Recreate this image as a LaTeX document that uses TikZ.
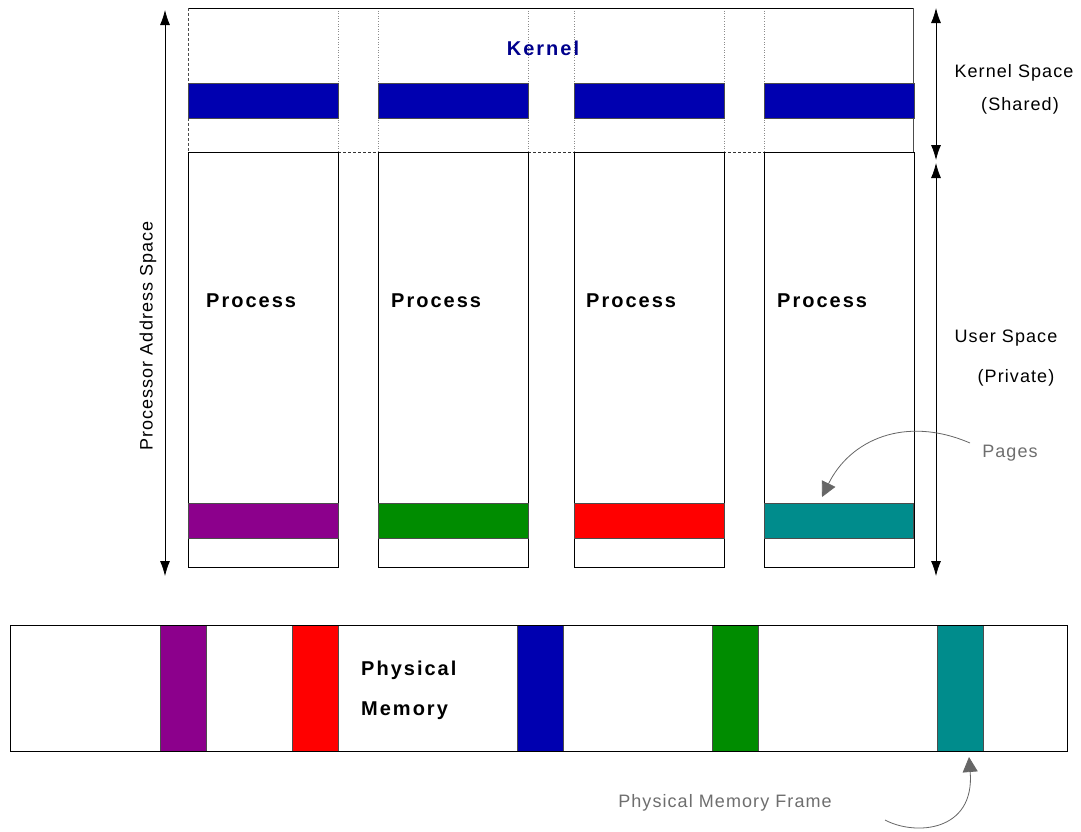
\documentclass[tikz,border=0pt]{standalone}
\usepackage{fontspec}
\setmainfont{Liberation Sans}
\newfontfamily\spaced[LetterSpace=6]{Liberation Sans}
\newfontfamily\bspaced[LetterSpace=10]{Liberation Sans Bold}
\usetikzlibrary{arrows.meta}
\definecolor{kblue}{RGB}{0,0,176}
\definecolor{kpurple}{RGB}{140,0,140}
\definecolor{kgreen}{RGB}{0,140,0}
\definecolor{kred}{RGB}{255,0,0}
\definecolor{kteal}{RGB}{0,140,140}
\definecolor{navy}{RGB}{0,0,140}
\definecolor{txtgray}{RGB}{110,110,110}
\tikzset{
  plain/.style={font=\spaced\fontsize{18}{20}\selectfont, inner sep=0pt},
  bold/.style={font=\bspaced\fontsize{20}{22}\selectfont, inner sep=0pt},
  graytxt/.style={plain, text=txtgray},
  frame/.style={draw=black, line width=0.7pt},
  bar/.style={draw=black!70, line width=0.7pt},
  dimarrow/.style={line width=0.8pt, {Latex[length=15pt,width=10pt]}-{Latex[length=15pt,width=10pt]}},
  curvearrow/.style={draw=black!60, line width=0.8pt, -{Triangle[length=15pt,width=15pt]}, fill=none},
  kdot/.style={draw=black!45, line width=0.6pt, dotted},
}
\begin{document}
\begin{tikzpicture}[x=1pt,y=-1pt]
\useasboundingbox (0,0) rectangle (1081,831);
% kernel region
\draw[kdot] (338,8) -- (338,152);
\draw[kdot] (378,8) -- (378,152);
\draw[kdot] (528,8) -- (528,152);
\draw[kdot] (574,8) -- (574,152);
\draw[kdot] (724,8) -- (724,152);
\draw[kdot] (764,8) -- (764,152);
\draw[line width=0.7pt] (188,8) -- (913,8);
\draw[line width=0.7pt, black!70] (913,8) -- (913,152);
\draw[line width=0.7pt, densely dashed, black!70] (188,8) -- (188,152);
\draw[line width=0.7pt, densely dashed, black!80] (188,152) -- (913,152);
\foreach \x in {188,378,574,764}{
  \draw[bar, fill=kblue] (\x,83) rectangle ++(150,35);
}
\node[bold, text=navy] (kernel) at (543,48) {Kernel};
% process columns
\foreach \x in {188,378,574,764}{
  \draw[frame] (\x,152) rectangle ++(150,415);
}
\draw[bar, fill=kpurple] (188,503) rectangle (338,538);
\draw[bar, fill=kgreen]  (378,503) rectangle (528,538);
\draw[bar, fill=kred]    (574,503) rectangle (724,538);
\draw[bar, fill=kteal]   (764,503) rectangle (913,538);
\node[bold, anchor=west] (p1) at (206,301) {Process};
\node[bold, anchor=west] (p2) at (391,301) {Process};
\node[bold, anchor=west] (p3) at (586,301) {Process};
\node[bold, anchor=west] (p4) at (777,301) {Process};
% dimension arrows
\coordinate (la) at (165,10);
\coordinate (lb) at (165,576);
\draw[dimarrow] (la) -- (lb);
\node[plain, rotate=90] (pas) at (148,336) {Processor Address Space};
\coordinate (ka) at (936,8);
\coordinate (kb) at (936,160);
\draw[dimarrow] (ka) -- (kb);
\coordinate (ua) at (936,163);
\coordinate (ub) at (936,576);
\draw[dimarrow] (ua) -- (ub);
\node[plain] (ks) at (1014,73) {Kernel Space};
\node[plain] (ksh) at (1020,106) {(Shared)};
\node[plain] (us) at (1006,338) {User Space};
\node[plain] (up) at (1016,378) {(Private)};
% pages
\node[graytxt] (pages) at (1010,453) {Pages};
\coordinate (pagetip) at (822,497);
\draw[curvearrow] (970,443) .. controls (905,415) and (850,440) .. (pagetip);
% physical memory
\draw[frame] (10,625) rectangle (1067,751);
\draw[bar, fill=kpurple] (160,625) rectangle (206,751);
\draw[bar, fill=kred]    (292,625) rectangle (338,751);
\draw[bar, fill=kblue]   (517,625) rectangle (563,751);
\draw[bar, fill=kgreen]  (712,625) rectangle (758,751);
\draw[bar, fill=kteal]   (937,625) rectangle (983,751);
\draw[frame] (10,625) rectangle (1067,751);
\node[bold, anchor=west] (phys) at (361,670) {Physical};
\node[bold, anchor=west] (mem) at (361,711) {Memory};
\node[graytxt] (pmf) at (725,803) {Physical Memory Frame};
\coordinate (frametip) at (969,757);
\draw[curvearrow] (885,820) .. controls (915,836) and (975,832) .. (frametip);
\end{tikzpicture}
\end{document}
